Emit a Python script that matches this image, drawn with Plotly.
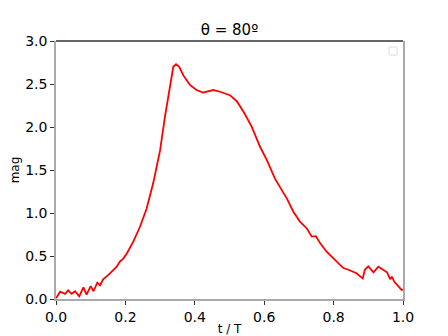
import plotly.graph_objects as go

# t / T and magnitude
t = [0.0, 0.012, 0.026, 0.035, 0.045, 0.055, 0.067, 0.079, 0.088, 0.100, 0.108,
     0.119, 0.127, 0.136, 0.151, 0.165, 0.175, 0.184, 0.194, 0.204, 0.223, 0.242,
     0.261, 0.280, 0.300, 0.314, 0.329, 0.338, 0.346, 0.355, 0.367, 0.386, 0.405,
     0.424, 0.453, 0.473, 0.501, 0.521, 0.540, 0.564, 0.588, 0.607, 0.631, 0.650,
     0.665, 0.684, 0.703, 0.723, 0.737, 0.749, 0.761, 0.780, 0.804, 0.828, 0.843,
     0.866, 0.884, 0.890, 0.900, 0.915, 0.929, 0.944, 0.954, 0.963, 0.968, 0.975,
     0.987, 0.996, 1.0]
mag = [0.01, 0.085, 0.06, 0.10, 0.06, 0.09, 0.03, 0.135, 0.05, 0.15, 0.09,
       0.19, 0.16, 0.23, 0.28, 0.34, 0.375, 0.435, 0.47, 0.53, 0.67, 0.84,
       1.05, 1.345, 1.73, 2.12, 2.51, 2.70, 2.73, 2.70, 2.60, 2.49, 2.43,
       2.40, 2.43, 2.41, 2.37, 2.30, 2.18, 2.005, 1.77, 1.62, 1.40, 1.27,
       1.17, 1.015, 0.90, 0.82, 0.725, 0.73, 0.65, 0.55, 0.455, 0.36, 0.34,
       0.30, 0.24, 0.34, 0.38, 0.31, 0.375, 0.34, 0.31, 0.23, 0.26, 0.20,
       0.145, 0.105, 0.11]

x_ticks = [0.0, 0.2, 0.4, 0.6, 0.8, 1.0]
y_ticks = [0.0, 0.5, 1.0, 1.5, 2.0, 2.5, 3.0]

font = "DejaVu Sans"

# the page body adds an 8px offset, so the figure is 8px smaller each way
W, H = 440, 328

fig = go.Figure(go.Scatter(x=t, y=mag, mode="lines",
                           line=dict(color="#ff0000", width=1.8),
                           showlegend=False))

fig.update_layout(
    width=W, height=H,
    margin=dict(l=48, r=45, t=33, b=37),
    paper_bgcolor="white", plot_bgcolor="white",
    font=dict(family=font, color="black", size=14),
    title=dict(text="θ = 80º", x=(48 + (W - 45 - 48) / 2) / W, xanchor="center",
               y=1 - 22 / H, yanchor="middle", font=dict(size=15),
               automargin=False),
    xaxis=dict(range=[0, 1], tickvals=x_ticks,
               ticktext=[f"{v:.1f}" for v in x_ticks],
               showgrid=False, zeroline=False, automargin=False,
               showline=True, linecolor="#aaaaaa", linewidth=1.5,
               ticks="outside", ticklen=4, tickcolor="#333333",
               title=dict(text="t / T", font=dict(size=12), standoff=2)),
    yaxis=dict(range=[0, 3], tickvals=y_ticks,
               ticktext=[f"{v:.1f}" for v in y_ticks],
               showgrid=False, zeroline=False, automargin=False,
               showline=True, mirror=True, linecolor="#aaaaaa", linewidth=1.5,
               ticks="outside", ticklen=4, tickcolor="#333333",
               title=dict(text="mag", font=dict(size=12), standoff=6)),
)

# dark top spine, as in the source image
fig.add_shape(type="line", xref="paper", yref="paper", x0=0, x1=1, y0=1, y1=1,
              line=dict(color="#333333", width=1.5))
# empty legend box
fig.add_shape(type="rect", xref="paper", yref="paper",
              x0=1 - 14 / 347, x1=1 - 6 / 347, y0=1 - 14 / 258, y1=1 - 6 / 258,
              line=dict(color="#dddddd", width=1), fillcolor="white")

fig.write_html("out.html")
